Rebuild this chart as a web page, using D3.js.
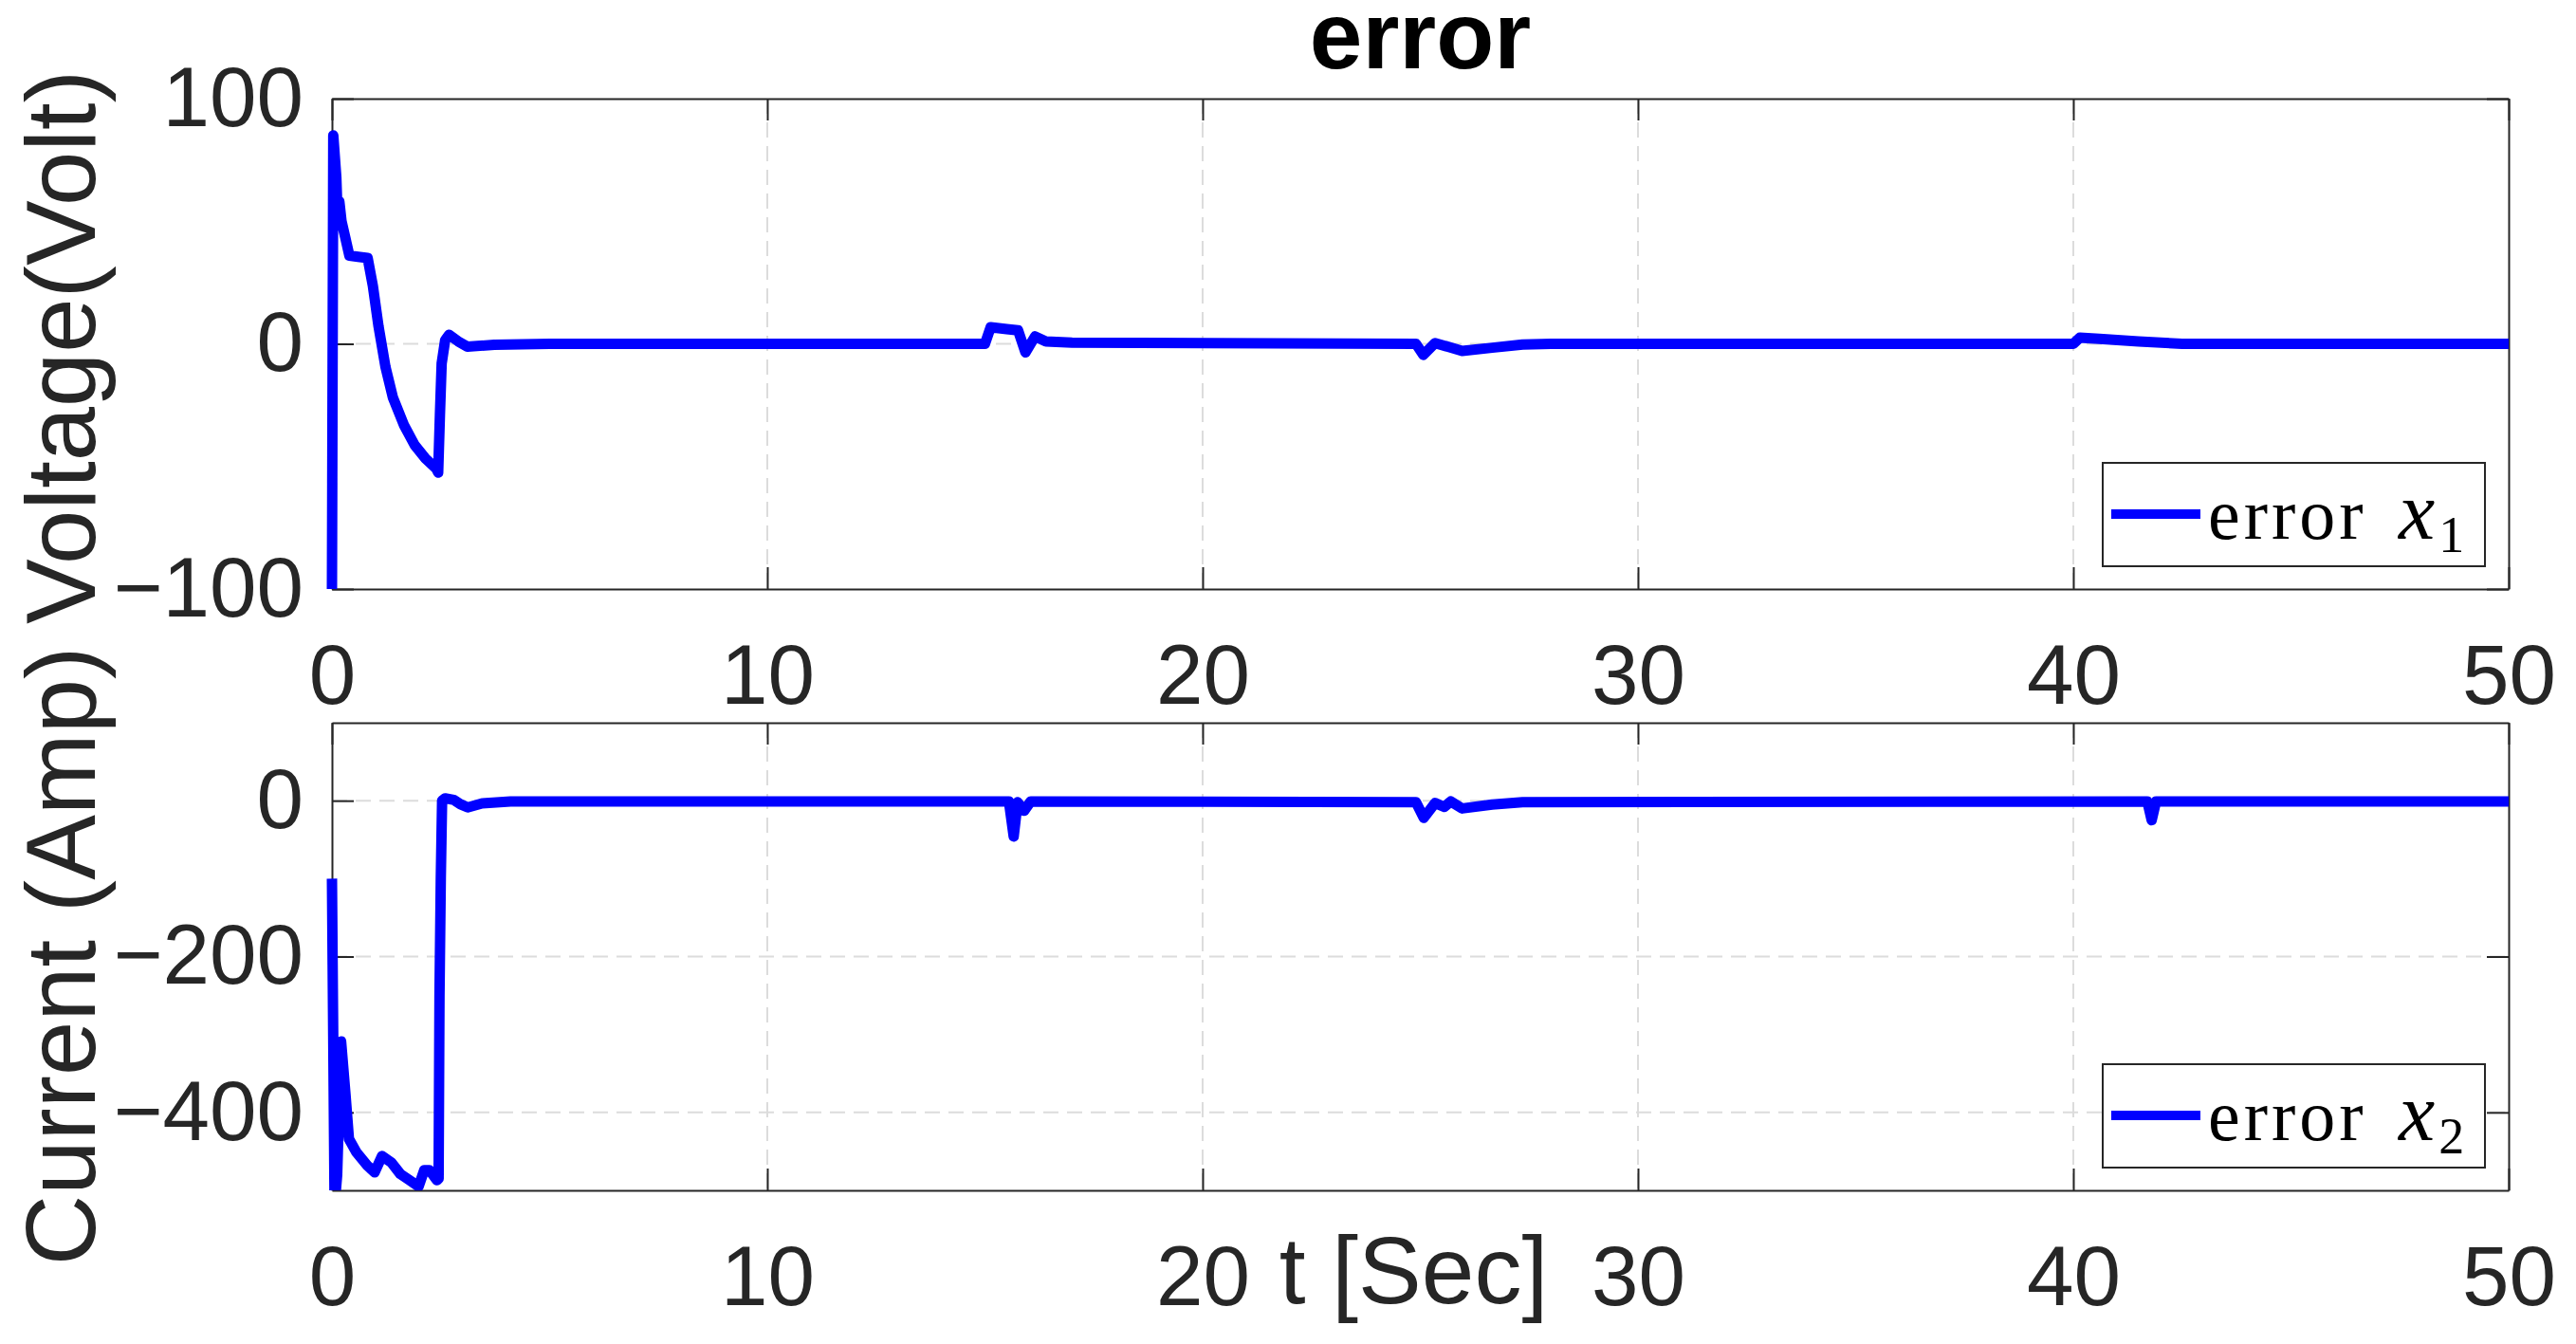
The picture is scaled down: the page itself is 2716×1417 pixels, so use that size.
<!DOCTYPE html>
<html>
<head>
<meta charset="utf-8">
<script src="https://cdn.jsdelivr.net/npm/d3@7"></script>
<style>
  html, body { margin: 0; padding: 0; background: #fff; }
  svg { display: block; }
</style>
</head>
<body>
<script>
// ---------------- data ----------------
const t1 = [0, 0.03, 0.10, 0.13, 0.17, 0.22, 0.31, 0.40, 0.60, 0.82, 0.94, 1.07, 1.23, 1.40, 1.65, 1.90, 2.15, 2.40, 2.44, 2.48, 2.52, 2.60, 2.69, 2.90, 3.11, 3.73, 5, 15.0, 15.13, 15.5, 15.76, 15.93, 16.15, 16.4, 17, 24.9, 25.07, 25.34, 25.6, 25.96, 26.65, 27.35, 28, 40.0, 40.15, 40.6, 41.5, 42.5, 50];
const x1 = [-100, 85, 68, 52, 58, 50, 43, 36, 35.5, 35, 23.6, 7.1, -9.5, -21.9, -33, -41.3, -46.8, -51, -52.5, -29, -8, 1.5, 3.7, 1, -1.2, -0.4, 0, 0, 6.8, 6, 5.5, -3.5, 3, 1, 0.5, 0, -4.5, 0.3, -1, -2.9, -1.6, -0.3, 0, 0, 2.5, 2, 1, 0, 0];

const t2 = [0, 0.06, 0.12, 0.21, 0.31, 0.39, 0.56, 0.81, 0.98, 1.15, 1.36, 1.57, 1.78, 1.99, 2.12, 2.24, 2.41, 2.45, 2.47, 2.50, 2.53, 2.60, 2.80, 2.95, 3.12, 3.45, 4.1, 15.55, 15.66, 15.75, 15.9, 16.05, 24.9, 25.08, 25.34, 25.55, 25.7, 25.96, 26.65, 27.35, 41.7, 41.8, 41.9, 50];
const x2 = [-100, -520, -480, -309, -376, -434, -451, -468, -477, -456, -464, -479, -487, -495, -474, -474, -487, -485, -250, -100, 0, 3, 1, -4.5, -8.6, -3.5, -1, -1, -46, -2, -13, -1, -2, -22, -3, -8, -1, -10, -5, -2, -1, -25, -1, -1];

const xTicks = [0, 10, 20, 30, 40, 50];
const xTickLabels = ["0", "10", "20", "30", "40", "50"];
const y1Ticks = [-100, 0, 100];
const y1TickLabels = ["\u2212100", "0", "100"];
const y2Ticks = [-400, -200, 0];
const y2TickLabels = ["\u2212400", "\u2212200", "0"];
const y1Domain = [-100, 100];
const y2Domain = [-500, 100];

const titleText = "error";
const xLabelText = "t [Sec]";
const yLabel1 = "Voltage(Volt)";
const yLabel2 = "Current (Amp)";
const legend1 = { word: "error", sub: "1" };
const legend2 = { word: "error", sub: "2" };

// ---------------- layout ----------------
const W = 2716, H = 1417;
const left = 350, right = 2645;
const panels = [
  { top: 104, bottom: 621, t: t1, v: x1, dom: y1Domain, ticks: y1Ticks, labels: y1TickLabels, ylab: yLabel1, ylabY: 366, leg: legend1 },
  { top: 762, bottom: 1255, t: t2, v: x2, dom: y2Domain, ticks: y2Ticks, labels: y2TickLabels, ylab: yLabel2, ylabY: 1008, leg: legend2 }
];
const axisColor = "#262626";
const gridColor = "#dcdcdc";
const tickFont = 89;
const labelFont = 100;
const yLabelFont = 103;
const tickLen = 23;

const svg = d3.select("body").append("svg").attr("width", W).attr("height", H);

const x = d3.scaleLinear().domain([0, 50]).range([left, right]);

panels.forEach((p, i) => {
  const y = d3.scaleLinear().domain(p.dom).range([p.bottom, p.top]);
  const g = svg.append("g");

  // grid
  g.append("g").selectAll("line").data(xTicks.filter(d => d > 0 && d < 50)).join("line")
    .attr("x1", d => x(d)).attr("x2", d => x(d)).attr("y1", p.top).attr("y2", p.bottom)
    .attr("stroke", gridColor).attr("stroke-width", 2).attr("stroke-dasharray", "16,9");
  g.append("g").selectAll("line").data(p.ticks.filter(d => d > p.dom[0] && d < p.dom[1])).join("line")
    .attr("y1", d => y(d)).attr("y2", d => y(d)).attr("x1", left).attr("x2", right)
    .attr("stroke", gridColor).attr("stroke-width", 2).attr("stroke-dasharray", "16,9");

  // axes
  const fmtX = (d) => xTickLabels[xTicks.indexOf(d)];
  const fmtY = (d) => p.labels[p.ticks.indexOf(d)];
  const ax = [
    g.append("g").attr("transform", `translate(0,${p.bottom})`)
      .call(d3.axisBottom(x).tickValues(xTicks).tickFormat(fmtX).tickSizeInner(-tickLen).tickSizeOuter(0).tickPadding(58)),
    g.append("g").attr("transform", `translate(0,${p.top})`)
      .call(d3.axisTop(x).tickValues(xTicks).tickFormat(() => "").tickSizeInner(-tickLen).tickSizeOuter(0)),
    g.append("g").attr("transform", `translate(${left},0)`)
      .call(d3.axisLeft(y).tickValues(p.ticks).tickFormat(fmtY).tickSizeInner(-tickLen).tickSizeOuter(0).tickPadding(30)),
    g.append("g").attr("transform", `translate(${right},0)`)
      .call(d3.axisRight(y).tickValues(p.ticks).tickFormat(() => "").tickSizeInner(-tickLen).tickSizeOuter(0))
  ];
  ax.forEach(a => {
    a.select(".domain").attr("stroke", axisColor).attr("stroke-width", 2);
    a.selectAll(".tick line").attr("stroke", axisColor).attr("stroke-width", 2);
    a.selectAll(".tick text").attr("fill", axisColor)
      .attr("font-family", "'Liberation Sans', Arial, Helvetica, sans-serif")
      .attr("font-size", tickFont);
  });

  // clip
  const clipId = "clip" + i;
  svg.append("clipPath").attr("id", clipId).append("rect")
    .attr("x", left - 12).attr("y", p.top).attr("width", right - left + 24).attr("height", p.bottom - p.top);

  // data line
  const pts = p.t.map((t, k) => [t, p.v[k]]);
  g.append("path").datum(pts)
    .attr("clip-path", `url(#${clipId})`)
    .attr("fill", "none").attr("stroke", "#0000ff").attr("stroke-width", 11)
    .attr("stroke-linejoin", "round")
    .attr("d", d3.line().x(d => x(d[0])).y(d => y(d[1])));

  // y label
  svg.append("text")
    .attr("transform", `translate(100,${p.ylabY}) rotate(-90)`)
    .attr("text-anchor", "middle")
    .attr("fill", axisColor)
    .attr("font-family", "'Liberation Sans', Arial, Helvetica, sans-serif")
    .attr("font-size", yLabelFont)
    .text(p.ylab);

  // legend
  const bw = 403, bh = 109;
  const bx = right - 25 - bw, by = p.bottom - 24 - bh;
  const lg = svg.append("g");
  lg.append("rect").attr("x", bx).attr("y", by).attr("width", bw).attr("height", bh)
    .attr("fill", "#fff").attr("stroke", axisColor).attr("stroke-width", 2);
  lg.append("line").attr("x1", bx + 9).attr("x2", bx + 103).attr("y1", by + 54).attr("y2", by + 54)
    .attr("stroke", "#0000ff").attr("stroke-width", 10);
  const tx = lg.append("text").attr("x", bx + 111).attr("y", by + 80)
    .attr("fill", "#000").attr("font-family", "'Liberation Serif', 'Times New Roman', serif");
  tx.append("tspan").attr("font-size", 76).attr("letter-spacing", 4).text(p.leg.word);
  tx.append("tspan").attr("x", bx + 312).attr("font-size", 86).attr("font-style", "italic").text("x");
  tx.append("tspan").attr("dx", 4).attr("dy", 14).attr("font-size", 54).text(p.leg.sub);
});

// title
svg.append("text").attr("x", (left + right) / 2).attr("y", 72)
  .attr("text-anchor", "middle").attr("fill", "#000")
  .attr("font-family", "'Liberation Sans', Arial, Helvetica, sans-serif")
  .attr("font-weight", "bold").attr("font-size", 100)
  .text(titleText);

// x label (sits on the bottom tick-label line, as in the reference)
svg.append("text").attr("x", (left + right) / 2 - 7).attr("y", 1374)
  .attr("text-anchor", "middle").attr("fill", axisColor)
  .attr("font-family", "'Liberation Sans', Arial, Helvetica, sans-serif")
  .attr("font-size", labelFont)
  .text(xLabelText);
</script>
</body>
</html>
